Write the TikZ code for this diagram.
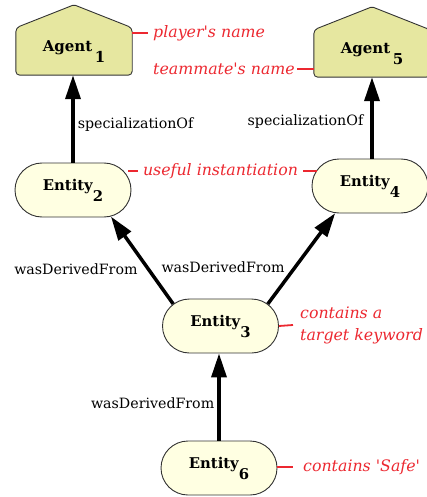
\documentclass[tikz,border=0pt]{standalone}
\usepackage{fontspec}
\setmainfont{DejaVu Serif}[Ligatures=TeXOff]
\usetikzlibrary{shapes.misc,arrows.meta,backgrounds,calc}
\definecolor{agentfill}{RGB}{230,231,160}
\definecolor{entfill}{RGB}{255,255,226}
\definecolor{annred}{RGB}{236,40,48}
\newcommand\entsub[1]{\raisebox{-11pt}{\smash{#1}}}
\begin{document}
\begin{tikzpicture}[x=1pt,y=-1pt,
  entity/.style={rounded rectangle, draw=black!80, fill=entfill, line width=0.9pt,
    minimum width=116pt, minimum height=54pt, inner sep=0pt,
    font=\bfseries\fontsize{14.8}{17}\selectfont},
  agent/.style={rectangle, minimum width=116pt, minimum height=47pt, inner sep=0pt,
    font=\bfseries\fontsize{15}{17}\selectfont},
  houseshape/.style={draw=black!80, fill=agentfill, line width=0.9pt, rounded corners=4pt},
  rel/.style={line width=3.5pt, -{Triangle[length=24pt,width=15pt]}},
  lbl/.style={font=\fontsize{14.2}{16}\selectfont, inner sep=3pt},
  ann/.style={text=annred, font=\itshape\fontsize{15.8}{22}\selectfont, inner sep=0pt},
  annline/.style={draw=annred, line width=1.8pt}]
\useasboundingbox (0,0) rectangle (426,497);

% agents
\node[agent] (a1) at (74,51.5) {Agent\,\entsub{1}};
\node[agent] (a5) at (372,53.5) {Agent\,\entsub{5}};
\begin{scope}[on background layer]
  \draw[houseshape] (a1.south west) -- (a1.north west) [rounded corners=1.5pt] -- ([yshift=23pt]a1.north)
    [rounded corners=4pt] -- (a1.north east) -- (a1.south east) -- cycle;
  \draw[houseshape] (a5.south west) -- (a5.north west) [rounded corners=1.5pt] -- ([yshift=23pt]a5.north)
    [rounded corners=4pt] -- (a5.north east) -- (a5.south east) -- cycle;
\end{scope}

% entities
\node[entity] (e2) at (73,190) {Entity\entsub{2}};
\node[entity] (e4) at (370,186) {Entity\entsub{4}};
\node[entity] (e3) at (220.5,326) {Entity\entsub{3}};
\node[entity] (e6) at (219,468) {Entity\entsub{6}};

% relations
\draw[rel] (e2.north) -- node[lbl, pos=0.44, anchor=west] {specializationOf} (e2.north |- a1.south);
\draw[rel] (a5.south |- e4.north) -- node[lbl, pos=0.46, anchor=east, xshift=-4pt] {specializationOf} (a5.south);
\draw[rel] (e3.155) -- node[lbl, pos=0.40, anchor=east, xshift=-6pt] {wasDerivedFrom} (e2.-35);
\draw[rel] (e3.25) -- node[lbl, pos=0.41, anchor=east, xshift=-6pt] {wasDerivedFrom} (e4.218);
\draw[rel] (e6.north) -- node[lbl, pos=0.43, anchor=east] {wasDerivedFrom} (e6.north |- e3.south);

% annotations
\node[ann, anchor=west] (pn) at (153,33) {player's name};
\draw[annline] (a1.east |- pn.west) -- ([xshift=-5pt]pn.west);
\node[ann, anchor=east] (tn) at (295,69) {teammate's name};
\draw[annline] ([xshift=2pt]tn.east) -- (a5.west |- tn.east);
\node[ann, anchor=center] (ui) at (220.5,171) {useful instantiation};
\draw[annline] ([xshift=-3pt]e2.east |- ui.west) -- ([xshift=-5pt]ui.west);
\draw[annline] ([xshift=5pt]ui.east) -- ([xshift=5pt]e4.west |- ui.east);
\node[ann, anchor=west, align=left] (ck) at (300,325) {contains a\\target keyword};
\draw[annline] (e3.east) -- ([xshift=-7pt]ck.west);
\node[ann, anchor=west] (cs) at (303,467) {contains 'Safe'};
\draw[annline] (e6.east |- cs.west) -- ([xshift=-10pt]cs.west);
\end{tikzpicture}
\end{document}
